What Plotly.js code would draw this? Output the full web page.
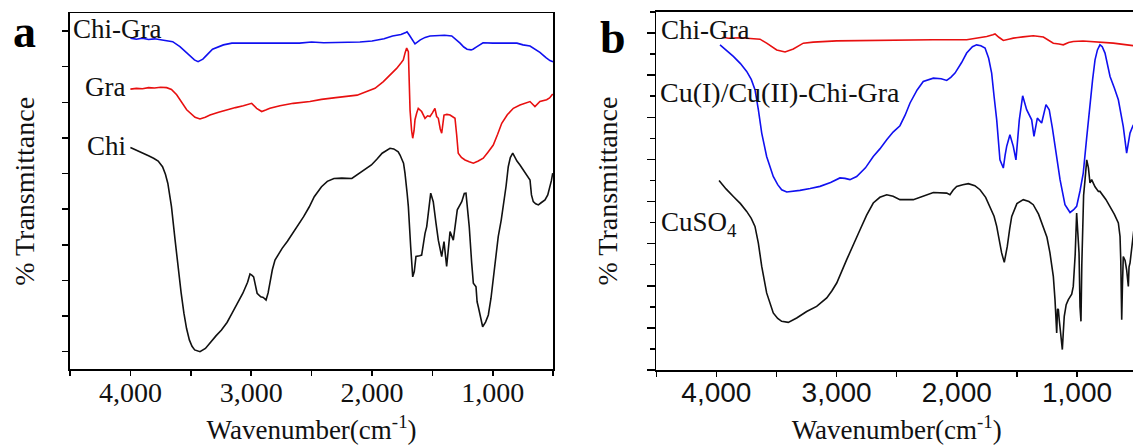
<!DOCTYPE html>
<html>
<head>
<meta charset="utf-8">
<script src="https://cdn.plot.ly/plotly-3.0.1.min.js"></script>
<style>
  html, body { margin: 0; padding: 0; overflow: hidden; background: #fff; width: 1133px; height: 445px; }
  #fig { width: 1145px; height: 445px; }
</style>
</head>
<body>
<div id="fig"></div>
<script>
// ---------- Panel a: FTIR spectra (wavenumber in cm^-1, transmittance in arbitrary units) ----------
const wnChiGraA = [4000,3950,3900,3850,3800,3750,3700,3650,3590,3510,3470,3440,3400,3360,3320,3230,3160,3000,2900,2800,2600,2500,2400,2200,2100,2000,1900,1830,1760,1720,1710,1690,1660,1644,1600,1560,1520,1450,1400,1340,1300,1271,1240,1213,1180,1164,1131,1100,1081,1000,940,880,800,750,692,650,610,560,527,502];
const tChiGraA  = [88.0,87.7,88.0,87.6,87.8,87.5,87.3,87.0,85.6,83.0,81.9,81.4,82.1,83.5,84.9,86.1,86.6,86.6,86.5,86.6,86.6,86.9,86.7,86.7,86.9,87.2,87.8,88.6,89.0,89.6,89.8,88.8,87.0,86.4,87.5,88.2,88.6,88.7,88.8,88.6,87.5,86.6,85.5,84.9,84.7,84.9,85.6,86.3,86.7,86.6,86.7,86.6,86.6,86.1,85.8,85.0,84.0,82.5,81.7,81.4];

const wnGraA = [4000,3950,3900,3850,3800,3750,3700,3660,3617,3534,3465,3424,3380,3341,3270,3203,3130,3065,2996,2955,2913,2880,2845,2762,2652,2514,2418,2300,2182,2123,2044,1975,1906,1850,1796,1760,1741,1725,1713,1699,1690,1685,1672,1663,1652,1644,1630,1617,1589,1561,1540,1520,1500,1479,1465,1451,1435,1423,1404,1380,1354,1313,1299,1286,1260,1230,1195,1161,1120,1079,1040,996,960,926,880,830,775,730,692,651,610,554,530,504];
const tGraA  = [73.7,73.9,73.8,74.1,74.0,74.2,74.1,73.6,72.1,67.9,65.8,65.3,65.8,66.4,67.2,67.9,68.5,69.0,69.7,68.3,67.4,67.8,68.3,69.0,69.7,70.2,70.8,71.3,71.8,72.0,73.0,73.9,75.8,77.6,79.5,81.0,81.9,84.0,85.2,84.2,76.0,67.8,62.0,59.9,62.0,65.1,67.0,68.3,67.4,65.5,66.2,66.0,67.0,68.3,66.0,65.5,62.5,61.3,66.4,66.6,66.4,65.5,60.8,55.7,54.5,53.8,53.3,52.9,53.5,54.3,56.0,58.0,61.0,64.1,66.5,68.3,69.2,69.8,70.2,68.8,70.2,70.7,71.2,72.3];

const wnChiA = [4000,3950,3897,3850,3808,3770,3734,3710,3690,3660,3630,3601,3580,3557,3535,3512,3490,3468,3424,3379,3335,3290,3246,3200,3158,3110,3069,3030,3010,2995,2980,2951,2921,2900,2877,2860,2847,2825,2803,2744,2700,2655,2610,2566,2520,2478,2418,2370,2315,2250,2167,2123,2060,2005,1960,1916,1851,1820,1783,1768,1739,1727,1709,1699,1680,1663,1650,1636,1606,1589,1561,1547,1514,1493,1470,1451,1423,1404,1382,1368,1354,1327,1305,1294,1257,1236,1222,1195,1175,1161,1139,1130,1120,1100,1084,1060,1037,1015,996,975,955,930,907,890,872,855,835,800,775,730,692,680,665,645,623,600,568,545,527,515,504];
const tChiA  = [57.3,56.6,55.8,55.0,54.3,53.5,51.9,49.8,47.2,40.7,31.3,22.0,16.5,10.8,6.5,3.3,1.5,0.5,0.0,0.9,2.8,4.5,6.1,8.2,10.8,13.7,16.4,19.5,21.8,21.5,21.0,16.4,15.4,15.2,14.5,16.5,19.2,23.0,25.7,29.0,31.0,33.2,35.5,37.9,40.6,43.5,46.3,47.8,48.6,48.7,48.6,49.6,51.0,52.4,54.0,55.7,57.1,56.9,56.1,55.2,52.9,50.1,44.4,40.7,29.5,21.0,22.5,26.7,26.9,27.1,33.2,35.1,44.5,42.1,36.0,31.3,26.7,30.9,23.9,30.0,33.7,31.3,37.5,39.8,42.1,44.4,44.5,35.1,25.0,19.2,18.2,14.0,12.6,9.0,7.0,8.3,10.3,15.0,20.1,26.0,32.3,37.0,42.1,46.5,51.9,54.5,55.7,53.5,52.4,50.3,48.2,44.0,42.1,41.5,41.2,41.8,42.6,44.0,46.3,48.0,50.1];

// ---------- Panel b ----------
const wnChiGraB = [3950,3900,3800,3700,3637,3582,3498,3429,3360,3277,3194,3000,2800,2600,2473,2200,1918,1830,1751,1700,1682,1650,1613,1560,1530,1450,1364,1280,1240,1197,1150,1114,1070,1031,950,880,809,750,698,600,534,500];
const tChiGraB  = [14.8,14.75,14.78,14.72,14.71,14.52,14.2,14.1,14.24,14.52,14.57,14.63,14.65,14.66,14.67,14.68,14.68,14.75,14.84,14.92,14.96,14.8,14.65,14.72,14.76,14.82,14.87,14.81,14.68,14.52,14.48,14.44,14.55,14.6,14.62,14.6,14.55,14.55,14.52,14.45,14.4,14.38];

const wnCuChiGra = [3970,3920,3859,3800,3748,3710,3679,3651,3623,3582,3527,3490,3457,3415,3360,3305,3220,3138,3050,2972,2930,2889,2833,2760,2695,2640,2583,2530,2473,2430,2389,2330,2279,2195,2130,2084,2050,2015,1960,1918,1870,1835,1800,1765,1735,1710,1690,1668,1641,1613,1598,1585,1558,1530,1508,1480,1452,1435,1419,1377,1358,1330,1294,1258,1231,1205,1183,1141,1100,1058,1030,1003,975,948,920,892,870,850,830,809,790,767,745,725,690,656,615,600,587,575,559,534,500];
const tCuChiGra  = [14.44,14.2,13.89,13.55,13.18,12.8,12.31,11.36,10.25,9.14,8.19,7.8,7.56,7.45,7.48,7.53,7.62,7.72,7.9,8.12,8.1,8.04,8.19,8.6,9.14,9.5,9.93,10.3,10.6,11.1,11.68,12.3,12.7,12.86,12.83,12.75,12.9,13.1,13.6,14.05,14.35,14.44,14.4,14.29,13.8,13.1,12.0,10.88,8.98,8.59,9.2,9.62,10.17,9.62,8.98,10.88,12.02,11.7,11.36,10.88,10.09,10.96,10.73,11.6,11.36,10.5,9.62,8.04,6.85,6.48,6.6,6.77,7.5,8.35,10.0,11.68,12.8,13.73,14.2,14.44,14.35,14.05,13.5,12.94,12.4,11.83,10.56,9.8,9.3,9.7,10.25,10.6,10.9];

const wnCuSO4 = [3978,3920,3859,3800,3748,3710,3679,3651,3623,3582,3527,3490,3457,3402,3332,3249,3166,3082,3040,2999,2916,2860,2805,2750,2695,2640,2583,2530,2473,2362,2280,2195,2084,2057,2030,2001,1950,1904,1850,1807,1760,1724,1690,1668,1640,1627,1605,1590,1580,1560,1543,1500,1447,1400,1364,1320,1280,1250,1225,1197,1183,1176,1169,1162,1155,1148,1141,1130,1122,1114,1106,1090,1072,1044,1031,1015,1003,993,983,975,967,960,952,945,933,919,905,892,878,850,822,809,760,725,690,656,642,636,628,622,615,600,587,573,567,559,545,534,520];
const tCuSO4  = [8.0,7.6,7.24,6.9,6.53,6.2,5.82,5.03,3.92,2.66,1.71,1.45,1.31,1.26,1.47,1.78,2.02,2.42,2.75,3.13,4.24,5.0,5.66,6.35,6.93,7.2,7.32,7.25,7.09,7.09,7.25,7.43,7.4,7.32,7.55,7.72,7.8,7.85,7.75,7.56,7.2,6.77,6.3,5.82,5.0,4.56,4.11,4.5,4.87,5.7,6.29,6.9,7.09,7.0,6.85,6.4,5.82,5.3,4.56,3.45,2.34,1.5,0.76,1.9,1.87,1.4,1.07,0.5,-0.03,0.8,1.55,2.1,2.34,2.6,2.97,4.5,6.45,5.5,4.56,2.0,1.31,4.0,6.61,7.3,8.04,8.98,8.6,7.88,8.04,7.7,7.48,7.48,7.1,6.77,6.4,5.98,5.34,4.24,1.39,3.0,4.39,4.2,3.76,2.97,3.9,4.08,4.8,5.42,6.0];

const BLUE = '#1010f0', RED = '#e81010', BLACK = '#111111';
const W = 1145;

function line(x, y, color, xa, ya) {
  return { x: x, y: y, type: 'scatter', mode: 'lines', xaxis: xa, yaxis: ya,
           line: { color: color, width: 1.6 }, hoverinfo: 'skip', showlegend: false };
}

const traces = [
  line(wnChiGraA, tChiGraA, BLUE, 'x', 'y'),
  line(wnGraA, tGraA, RED, 'x', 'y'),
  line(wnChiA, tChiA, BLACK, 'x', 'y'),
  line(wnChiGraB, tChiGraB, RED, 'x2', 'y2'),
  line(wnCuChiGra, tCuChiGra, BLUE, 'x2', 'y2'),
  line(wnCuSO4, tCuSO4, BLACK, 'x2', 'y2')
];

const serif = 'Liberation Serif, Times New Roman, serif';
const sans = 'Liberation Sans, Arial, sans-serif';

// Wavenumber axis: labelled every 1000, extra ticks every 500
function xAxis(domain, tickFamily, anchor) {
  return {
    domain: domain, anchor: anchor, range: [4500, 500], autorange: false,
    tickmode: 'linear', tick0: 0, dtick: 1000, tickformat: ',d',
    ticks: 'outside', ticklen: 5, tickwidth: 1.5, tickcolor: '#000',
    minor: { tick0: 0, dtick: 500, ticks: 'outside', ticklen: 5, tickwidth: 1.5, tickcolor: '#000', showgrid: false },
    tickfont: { family: tickFamily, size: 28, color: '#111' },
    ticklabelstandoff: -8,
    showline: true, linewidth: 1.6, linecolor: '#000', mirror: true,
    showgrid: false, zeroline: false, automargin: false,
    title: { text: 'Wavenumber(cm<sup>-1</sup>)', font: { family: serif, size: 27, color: '#111' }, standoff: 16 }
  };
}

const layout = {
  width: W, height: 445,
  margin: { l: 0, r: 0, t: 12, b: 75 },
  paper_bgcolor: '#fff', plot_bgcolor: '#fff',
  xaxis: xAxis([70 / W, 553.2 / W], serif, 'y'),
  yaxis: {
    domain: [0.0014, 0.9967], anchor: 'x', range: [-5, 95], autorange: false,
    tickmode: 'linear', tick0: 0, dtick: 10, showticklabels: false,
    ticks: 'outside', ticklen: 6, tickwidth: 1.5, tickcolor: '#000',
    showline: true, linewidth: 1.6, linecolor: '#000', mirror: true,
    showgrid: false, zeroline: false, automargin: false,
    title: { text: '% Transmittance', font: { family: serif, size: 28, color: '#111' }, standoff: 19 }
  },
  xaxis2: xAxis([656.3 / W, 1137.1 / W], sans, 'y2'),
  yaxis2: {
    domain: [0, 1], anchor: 'x2', range: [-1, 16], autorange: false,
    tickmode: 'linear', tick0: 1, dtick: 2, showticklabels: false,
    ticks: 'outside', ticklen: 8, tickwidth: 1.5, tickcolor: '#000',
    minor: { tick0: 0, dtick: 1, ticks: 'outside', ticklen: 5, tickwidth: 1.5, tickcolor: '#000', showgrid: false },
    showline: true, linewidth: 1.6, linecolor: '#000', mirror: true,
    showgrid: false, zeroline: false, automargin: false,
    title: { text: '% Transmittance', font: { family: serif, size: 28, color: '#111' }, standoff: 21 }
  },
  annotations: [
    { text: '<b>a</b>', x: 24 / W, y: 0.9464, xanchor: 'center', font: { family: serif, size: 46, color: '#000' } },
    { text: '<b>b</b>', x: 613 / W, y: 0.9279, xanchor: 'center', font: { family: serif, size: 46, color: '#000' } },
    { text: 'Chi-Gra', x: 71 / W, y: 0.952, xanchor: 'left' },
    { text: 'Gra', x: 83 / W, y: 0.7916, xanchor: 'left' },
    { text: 'Chi', x: 85.3 / W, y: 0.626, xanchor: 'left' },
    { text: 'Chi-Gra', x: 658.7 / W, y: 0.9492, xanchor: 'left' },
    { text: 'Cu(I)/Cu(II)-Chi-Gra', x: 657.7 / W, y: 0.7749, xanchor: 'left', font: { family: serif, size: 28, color: '#111' } },
    { text: 'CuSO<sub>4</sub>', x: 658.7 / W, y: 0.4075, xanchor: 'left' }
  ].map(a => Object.assign({ xref: 'paper', yref: 'paper', showarrow: false, yanchor: 'middle',
                             font: { family: serif, size: 27, color: '#111' } }, a))
};

Plotly.newPlot('fig', traces, layout, { staticPlot: true, displayModeBar: false });
</script>
</body>
</html>
